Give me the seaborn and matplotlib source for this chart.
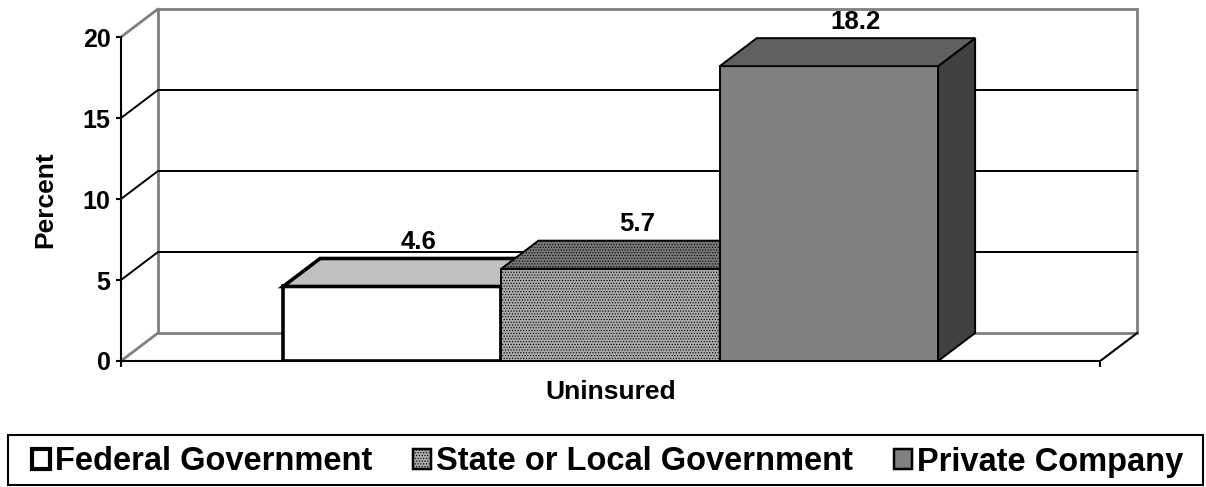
import pandas as pd
import seaborn as sns
import matplotlib.pyplot as plt
from matplotlib.patches import Polygon, Patch, Rectangle

# data
group = ["Uninsured"]
employers = ["Federal Government", "State or Local Government", "Private Company"]
percent = [4.6, 5.7, 18.2]
yticks = [0, 5, 10, 15, 20]

# styles (front / top / side faces of the pseudo-3D bars)
front_colors = ["#ffffff", "#a8a8a8", "#808080"]
top_colors = ["#c0c0c0", "#787878", "#606060"]
side_colors = ["#a0a0a0", "#585858", "#404040"]
hatches = [None, "......", None]
edge_widths = [2.6, 1.4, 1.4]

df = pd.DataFrame({"Group": group * len(employers), "Employer": employers, "Percent": percent})

sns.set_style("white")
plt.rcParams["font.family"] = ["Liberation Sans", "DejaVu Sans"]
plt.rcParams["font.weight"] = "bold"
plt.rcParams["text.color"] = "black"
plt.rcParams["xtick.color"] = "black"
plt.rcParams["ytick.color"] = "black"
plt.rcParams["hatch.linewidth"] = 0.5

W, H = 1206, 487
fig = plt.figure(figsize=(W / 100, H / 100), dpi=100)
ax = fig.add_axes([121 / W, (H - 361) / H, 1019 / W, 356 / H])

sns.barplot(data=df, x="Group", y="Percent", hue="Employer", hue_order=employers,
            palette=front_colors, width=0.8, saturation=1, errorbar=None,
            legend=False, ax=ax)

# axis scale: front plane spans -0.598..0.598, depth offset of the 3D look
x0, x1 = -0.598, 0.598
ax.set_xlim(x0, x0 + 1019 / 818.75)
ax.set_ylim(0, 356 / 16.2)
dx = 37 / 818.75
dy = 28 / 16.2

gray = "#808080"
# back wall and floor
ax.plot([x0 + dx, x1 + dx, x1 + dx, x0 + dx, x0 + dx], [dy, dy, 20 + dy, 20 + dy, dy],
        color=gray, lw=2, zorder=1, solid_joinstyle="miter")
ax.plot([x0, x0 + dx], [0, dy], color=gray, lw=2, zorder=1)
ax.plot([x0, x0 + dx], [20, 20 + dy], color=gray, lw=2, zorder=1)
ax.plot([x1, x1 + dx], [0, dy], color="black", lw=1.5, zorder=1)
# gridlines on side + back wall
for v in yticks[1:-1]:
    ax.plot([x0, x0 + dx, x1 + dx], [v, v + dy, v + dy], color="black", lw=1.4, zorder=1.1)

# turn flat bars into boxes
for i, cont in enumerate(ax.containers):
    bar = cont[0]
    bx, bw, bh = bar.get_x(), bar.get_width(), bar.get_height()
    z = 3 + i
    bar.set_facecolor(front_colors[i])
    bar.set_edgecolor("black")
    bar.set_linewidth(edge_widths[i])
    bar.set_joinstyle("miter")
    bar.set_zorder(z)
    if hatches[i]:
        bar.set_hatch(hatches[i])
    top = Polygon([(bx, bh), (bx + dx, bh + dy), (bx + bw + dx, bh + dy), (bx + bw, bh)],
                  closed=True, facecolor=top_colors[i], edgecolor="black",
                  lw=edge_widths[i], hatch=hatches[i], joinstyle="miter", zorder=z + 0.1)
    side = Polygon([(bx + bw, 0), (bx + bw + dx, dy), (bx + bw + dx, bh + dy), (bx + bw, bh)],
                   closed=True, facecolor=side_colors[i], edgecolor="black",
                   lw=edge_widths[i], hatch=hatches[i], joinstyle="miter", zorder=z + 0.05)
    ax.add_patch(side)
    ax.add_patch(top)
    ax.text(bx + bw / 2 + 0.032, bh + 2.3, f"{percent[i]}", ha="center", va="baseline",
            fontsize=18.5, fontweight="bold", zorder=10)

# axes
for s in ["top", "right"]:
    ax.spines[s].set_visible(False)
ax.spines["left"].set_bounds(0, 20)
ax.spines["bottom"].set_bounds(x0, x1)
for s in ["left", "bottom"]:
    ax.spines[s].set_color("black")
    ax.spines[s].set_linewidth(1.5)
    ax.spines[s].set_zorder(2)

ax.set_yticks(yticks)
ax.tick_params(axis="y", direction="out", length=3.6, width=1.5, pad=4,
               labelsize=18, left=True)
ax.set_xticks([0])
ax.set_xticklabels(group)
ax.set_xticks([x0, x1], minor=True)
ax.tick_params(axis="x", which="major", length=0, pad=14, labelsize=19)
ax.tick_params(axis="x", which="minor", direction="out", length=4, width=1.5, bottom=True)
for lab in ax.get_xticklabels() + ax.get_yticklabels():
    lab.set_fontweight("bold")
    lab.set_color("black")
ax.set_xlabel("")
ax.set_ylabel("")
fig.text(45 / W, 1 - 200 / H, "Percent", rotation=90, ha="center", va="center",
         fontsize=19, fontweight="bold", color="black")

# legend (own frame box so the entries can sit inset)
fig.add_artist(Rectangle((8 / W, 2 / H), 1195 / W, 50 / H, transform=fig.transFigure,
                         fill=False, edgecolor="black", lw=1.5))
handles = [Patch(facecolor=front_colors[i], edgecolor="black", hatch=hatches[i],
                 lw=edge_widths[i] + 0.4) for i in range(len(employers))]
leg = fig.legend(handles, employers, loc="center", ncol=3, mode="expand",
                 bbox_to_anchor=(32 / W, 0, 1151 / W, 50 / H),
                 fontsize=23.5, frameon=False, handlelength=0.55, handleheight=0.55,
                 handletextpad=0.15, borderaxespad=0, borderpad=0)
for t in leg.get_texts():
    t.set_fontweight("bold")
    t.set_color("black")

fig.savefig("out.png", dpi=100)
